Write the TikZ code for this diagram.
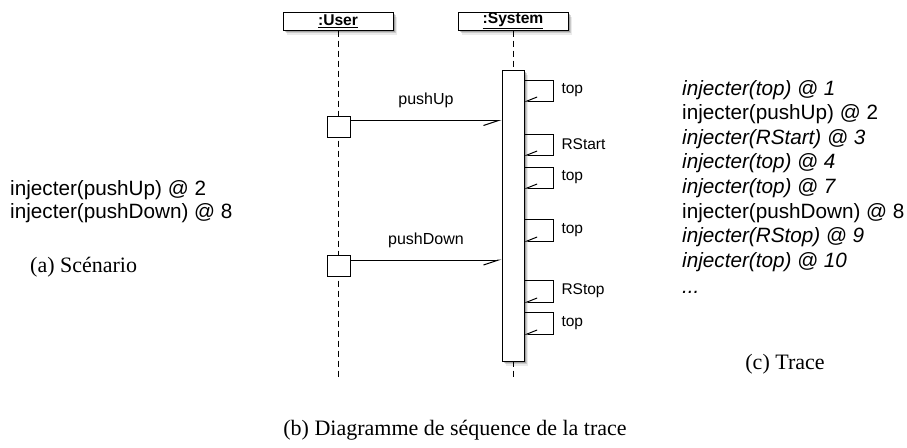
\documentclass[tikz,border=0pt]{standalone}
\usepackage{fontspec}
\setmainfont{Liberation Serif}
\setsansfont{Liberation Sans}
\usetikzlibrary{arrows.meta,shadows,calc}
\begin{document}
\begin{tikzpicture}[x=1pt,y=-1pt,
  shad/.style={drop shadow={shadow xshift=3.5pt,shadow yshift=-4.5pt,opacity=0.08,fill=black},
               drop shadow={shadow xshift=2.5pt,shadow yshift=-3.2pt,opacity=0.14,fill=black},
               drop shadow={shadow xshift=1.5pt,shadow yshift=-2pt,opacity=0.2,fill=black}},
  head/.style={draw,line width=1pt,fill=white,minimum width=110pt,minimum height=18pt,inner sep=0pt,
    font=\sffamily\bfseries\fontsize{15.6}{17}\selectfont,shad},
  life/.style={line width=0.9pt,dash pattern=on 6pt off 4pt},
  act/.style={draw,line width=1pt,fill=white,minimum width=22pt,minimum height=291pt,inner sep=0pt,shad},
  ubox/.style={draw,line width=1pt,fill=white,minimum width=23pt,minimum height=21pt,inner sep=0pt},
  msg/.style={line width=1pt,-{Straight Barb[right,length=15pt,width=10pt]}},
  selfmsg/.style={line width=1pt,-{Straight Barb[right,length=10pt,width=8pt]}},
  mlbl/.style={font=\sffamily\fontsize{16}{18}\selectfont,inner sep=0pt},
  slbl/.style={font=\sffamily\fontsize{15.5}{17}\selectfont,inner sep=0pt,anchor=west},
  txt/.style={font=\sffamily\fontsize{20.7}{22}\selectfont,inner sep=0pt,anchor=base west},
  captxt/.style={font=\rmfamily\fontsize{22}{24}\selectfont,inner sep=0pt,anchor=base}]
\useasboundingbox (0,0) rectangle (907,447);

% lifelines
\node[head] (user) at (338,21) {\underline{:User}};
\node[head] (sys) at (513,21) {\underline{:System}};
\coordinate (userend) at (338,380);
\coordinate (sysend) at (513,380);
\draw[life] (user.south) -- (userend);
\draw[life] (sys.south) -- (sysend);

% activation and sender boxes
\node[act] (act) at (513,215.5) {};
\node[ubox] (u1) at (338.5,126.5) {};
\node[ubox] (u2) at (338.5,266) {};

% messages
\coordinate (m1) at ([yshift=-5pt]u1.north east);
\coordinate (m2) at ([yshift=-5pt]u2.north east);
\draw[msg] (m1) -- (m1 -| act.west) node[mlbl,midway,above=12pt] {pushUp};
\draw[msg] (m2) -- (m2 -| act.west) node[mlbl,midway,above=12pt] {pushDown};

% self messages
\foreach \ya/\yb/\lab in {80/101/top, 134/155/RStart, 167/188/top, 219/241/top, 280/302/RStop, 312/334/top}{
  \draw[selfmsg] (act.east |- 0,\ya) -| node[slbl,pos=0.75,right=8pt] {\lab} (553,\yb) -- (act.east |- 0,\yb);
}

% scenario
\node[txt] (s1) at (10,195) {injecter(pushUp) @ 2};
\node[txt] (s2) at (10,218) {injecter(pushDown) @ 8};
\node[captxt,anchor=base west] (capa) at (30,272) {(a) Scénario};

% trace
\node[txt] (t1) at (682,95) {\itshape injecter(top) @ 1};
\node[txt] (t2) at (682,119.6) {injecter(pushUp) @ 2};
\node[txt] (t3) at (682,144.2) {\itshape injecter(RStart) @ 3};
\node[txt] (t4) at (682,168.8) {\itshape injecter(top) @ 4};
\node[txt] (t5) at (682,193.4) {\itshape injecter(top) @ 7};
\node[txt] (t6) at (682,218) {injecter(pushDown) @ 8};
\node[txt] (t7) at (682,242.6) {\itshape injecter(RStop) @ 9};
\node[txt] (t8) at (682,267.2) {\itshape injecter(top) @ 10};
\node[txt] (t9) at (682,293) {\itshape ...};
\node[captxt] (capc) at (785,369) {(c) Trace};
\node[captxt] (capb) at (455,435) {(b) Diagramme de séquence de la trace};
\end{tikzpicture}
\end{document}
